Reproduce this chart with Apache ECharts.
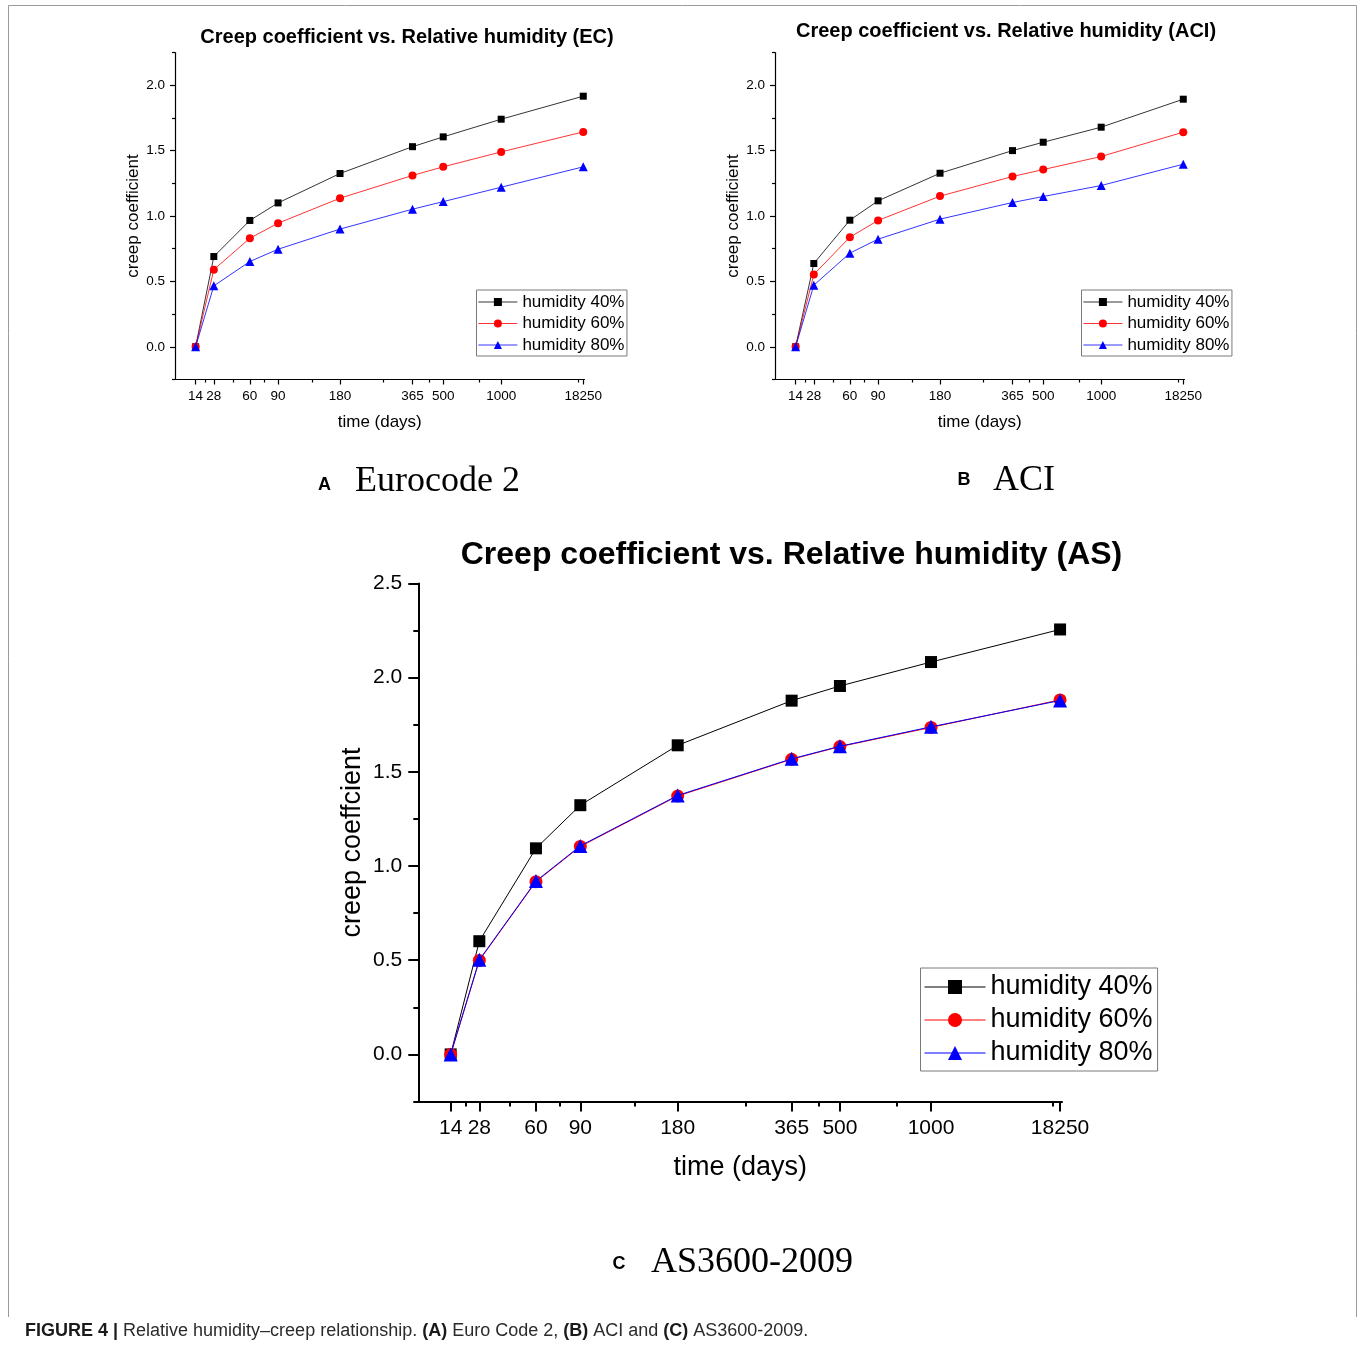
<!DOCTYPE html>
<html>
<head>
<meta charset="utf-8">
<script src="https://cdn.jsdelivr.net/npm/echarts@6.0.0/dist/echarts.min.js"></script>
<style>
  html, body { margin: 0; padding: 0; background: #fff; }
  #container { width: 1360px; height: 1345px; }
</style>
</head>
<body>
<div id="container"></div>
<script>
// ages (days) and where each one sits on the original, non-linear time axis (% of axis length)
var timeLabels = ['14', '28', '60', '90', '180', '365', '500', '1000', '18250'];
var timeAxisPos = [5.03, 9.48, 18.28, 25.17, 40.3, 58.0, 65.5, 79.65, 99.7];
var minorTimePos = [7.3, 14.14, 21.9, 33.56, 50.9, 62.2, 74.3, 98.55];

var seriesNames = ['humidity 40%', 'humidity 60%', 'humidity 80%'];

// Eurocode 2
var ecH40 = [0, 0.69, 0.966, 1.10, 1.325, 1.53, 1.605, 1.74, 1.916];
var ecH60 = [0, 0.59, 0.83, 0.945, 1.136, 1.31, 1.376, 1.49, 1.643];
var ecH80 = [0, 0.466, 0.652, 0.746, 0.90, 1.052, 1.11, 1.22, 1.376];
// ACI
var aciH40 = [0, 0.637, 0.968, 1.116, 1.327, 1.50, 1.564, 1.679, 1.893];
var aciH60 = [0, 0.553, 0.838, 0.966, 1.152, 1.302, 1.355, 1.455, 1.641];
var aciH80 = [0, 0.471, 0.716, 0.823, 0.976, 1.103, 1.149, 1.233, 1.396];
// AS3600-2009
var asH40 = [0, 0.601, 1.094, 1.323, 1.641, 1.878, 1.956, 2.083, 2.256];
var asH60 = [0, 0.499, 0.917, 1.104, 1.372, 1.567, 1.634, 1.736, 1.882];
var asH80 = [0, 0.502, 0.92, 1.107, 1.375, 1.569, 1.636, 1.739, 1.879];

var yMajorSmall = [0, 0.5, 1.0, 1.5, 2.0];
var yMinorSmall = [-0.25, 0.25, 0.75, 1.25, 1.75, 2.25];
var yMajorBig = [0, 0.5, 1.0, 1.5, 2.0, 2.5];
var yMinorBig = [-0.25, 0.25, 0.75, 1.25, 1.75, 2.25];

var dom = document.getElementById('container');
var myChart = echarts.init(dom);

var SANS = 'Liberation Sans';
var SERIF = 'Liberation Serif';
var colors = ['#000000', '#ff0000', '#0000ff'];
var symbols = ['rect', 'circle', 'triangle'];

var panels = [
  {
    grid: {left: 175, top: 52.5, width: 409.5, height: 327},
    values: [ecH40, ecH60, ecH80], yMax: 2.25, yMajor: yMajorSmall, yMinor: yMinorSmall,
    yName: 'creep coefficient', labelSize: 13.5, nameSize: 17, yNameGap: 33, xNameGap: 34,
    labelMargin: 10, majorLen: 5, minorLen: 3, axisW: 1.2, lineW: 0.8, symSize: [7, 8, 9],
    legend: {left: 476.5, top: 290, padding: [3.5, 2.5, 2.5, 1.5], itemWidth: 39, itemHeight: 10, itemGap: 4.5, fontSize: 17, lineW: 0.8}
  },
  {
    grid: {left: 775, top: 52.5, width: 409.5, height: 327},
    values: [aciH40, aciH60, aciH80], yMax: 2.25, yMajor: yMajorSmall, yMinor: yMinorSmall,
    yName: 'creep coefficient', labelSize: 13.5, nameSize: 17, yNameGap: 33, xNameGap: 34,
    labelMargin: 10, majorLen: 5, minorLen: 3, axisW: 1.2, lineW: 0.8, symSize: [7, 8, 9],
    legend: {left: 1081.5, top: 290, padding: [3.5, 2.5, 2.5, 1.5], itemWidth: 39, itemHeight: 10, itemGap: 4.5, fontSize: 17, lineW: 0.8}
  },
  {
    grid: {left: 418.3, top: 583.5, width: 643.7, height: 518},
    values: [asH40, asH60, asH80], yMax: 2.5, yMajor: yMajorBig, yMinor: yMinorBig,
    yName: 'creep coeffcient', labelSize: 21, nameSize: 27, yNameGap: 52, xNameGap: 53,
    labelMargin: 16, majorLen: 10, minorLen: 5, axisW: 2, lineW: 1, symSize: [12, 13, 14],
    legend: {left: 920.5, top: 968, padding: [5.5, 5, 4.5, 3.5], itemWidth: 61, itemHeight: 17.5, itemGap: 6, fontSize: 27, lineW: 1}
  }
];

var grids = [], xAxes = [], yAxes = [], series = [], legends = [];

panels.forEach(function (p, g) {
  grids.push({left: p.grid.left, top: p.grid.top, width: p.grid.width, height: p.grid.height,
    containLabel: false, outerBoundsMode: 'none'});

  var lineSt = {color: '#000', width: p.axisW};
  xAxes.push({
    gridIndex: g, type: 'value', min: 0, max: 100, position: 'bottom',
    name: 'time (days)', nameLocation: 'middle', nameGap: p.xNameGap, nameMoveOverlap: false,
    nameTextStyle: {fontSize: p.nameSize, color: '#000', fontFamily: SANS},
    axisLine: {show: true, onZero: false, lineStyle: lineSt},
    axisTick: {show: true, inside: false, length: p.majorLen, customValues: timeAxisPos, lineStyle: lineSt},
    axisLabel: {
      customValues: timeAxisPos, margin: p.labelMargin, fontSize: p.labelSize, color: '#000', fontFamily: SANS,
      formatter: function (v) {
        var i = timeAxisPos.indexOf(v);
        return i >= 0 ? timeLabels[i] : '';
      }
    },
    splitLine: {show: false}
  });
  xAxes.push({
    gridIndex: g, type: 'value', min: 0, max: 100, position: 'bottom',
    axisLine: {show: false, onZero: false},
    axisTick: {show: true, inside: false, length: p.minorLen, customValues: minorTimePos, lineStyle: lineSt},
    axisLabel: {show: false},
    splitLine: {show: false}
  });

  yAxes.push({
    gridIndex: g, type: 'value', min: -0.25, max: p.yMax, position: 'left',
    name: p.yName, nameLocation: 'middle', nameGap: p.yNameGap, nameMoveOverlap: false,
    nameTextStyle: {fontSize: p.nameSize, color: '#000', fontFamily: SANS},
    axisLine: {show: true, onZero: false, lineStyle: lineSt},
    axisTick: {show: true, inside: false, length: p.majorLen, customValues: p.yMajor, lineStyle: lineSt},
    axisLabel: {
      customValues: p.yMajor, margin: p.labelMargin, fontSize: p.labelSize, color: '#000', fontFamily: SANS,
      formatter: function (v) { return v.toFixed(1); }
    },
    splitLine: {show: false}
  });
  yAxes.push({
    gridIndex: g, type: 'value', min: -0.25, max: p.yMax, position: 'left',
    axisLine: {show: false, onZero: false},
    axisTick: {show: true, inside: false, length: p.minorLen, customValues: p.yMinor, lineStyle: lineSt},
    axisLabel: {show: false},
    splitLine: {show: false}
  });

  p.values.forEach(function (vals, k) {
    series.push({
      name: seriesNames[k], type: 'line',
      xAxisIndex: 2 * g, yAxisIndex: 2 * g,
      data: timeAxisPos.map(function (x, i) { return [x, vals[i]]; }),
      symbol: symbols[k], symbolSize: p.symSize[k],
      color: colors[k],
      itemStyle: {color: colors[k]},
      lineStyle: {color: colors[k], width: p.lineW},
      z: 2 + k,
      animation: false
    });
  });

  legends.push({
    orient: 'vertical', left: p.legend.left, top: p.legend.top,
    padding: p.legend.padding, itemWidth: p.legend.itemWidth, itemHeight: p.legend.itemHeight,
    itemGap: p.legend.itemGap, borderColor: '#7a7a7a', borderWidth: 1, backgroundColor: '#fff',
    selectedMode: false, data: seriesNames,
    lineStyle: {width: p.legend.lineW},
    textStyle: {fontSize: p.legend.fontSize, color: '#000', fontFamily: SANS}
  });
});

function txt(text, x, y, font, align) {
  return {
    type: 'text', x: x, y: y, silent: true,
    style: {text: text, font: font, fill: '#000', align: align || 'center', verticalAlign: 'middle'}
  };
}

var graphics = [
  {type: 'polyline', silent: true, shape: {points: [[8.5, 1317], [8.5, 5.5], [1356.5, 5.5], [1356.5, 1317]]},
    style: {stroke: '#9a9a9a', lineWidth: 1, fill: null}},
  txt('Creep coefficient vs. Relative humidity (EC)', 407, 37, 'bold 20px ' + SANS),
  txt('Creep coefficient vs. Relative humidity (ACI)', 1006, 31, 'bold 20px ' + SANS),
  txt('Creep coefficient vs. Relative humidity (AS)', 791.5, 555, 'bold 32px ' + SANS),
  txt('A', 324.5, 485, 'bold 18px ' + SANS),
  txt('Eurocode 2', 355, 482, '36px ' + SERIF, 'left'),
  txt('B', 964, 480, 'bold 18px ' + SANS),
  txt('ACI', 993, 481, '36px ' + SERIF, 'left'),
  txt('C', 619, 1264, 'bold 18px ' + SANS),
  txt('AS3600-2009', 651, 1263, '36px ' + SERIF, 'left'),
  {
    type: 'text', x: 25, y: 1331, silent: true,
    style: {
      text: '{b|FIGURE 4 |} Relative humidity\u2013creep relationship. {b|(A)} Euro Code 2, {b|(B)} ACI and {b|(C)} AS3600-2009.',
      font: '18px ' + SANS, fill: '#2b2b2b', align: 'left', verticalAlign: 'middle',
      rich: {b: {fontWeight: 'bold', fontSize: 18, fontFamily: SANS, fill: '#1a1a1a'}}
    }
  }
];

var option = {
  animation: false,
  backgroundColor: '#fff',
  grid: grids,
  xAxis: xAxes,
  yAxis: yAxes,
  legend: legends,
  series: series,
  graphic: graphics
};

myChart.setOption(option, true);
</script>
</body>
</html>
